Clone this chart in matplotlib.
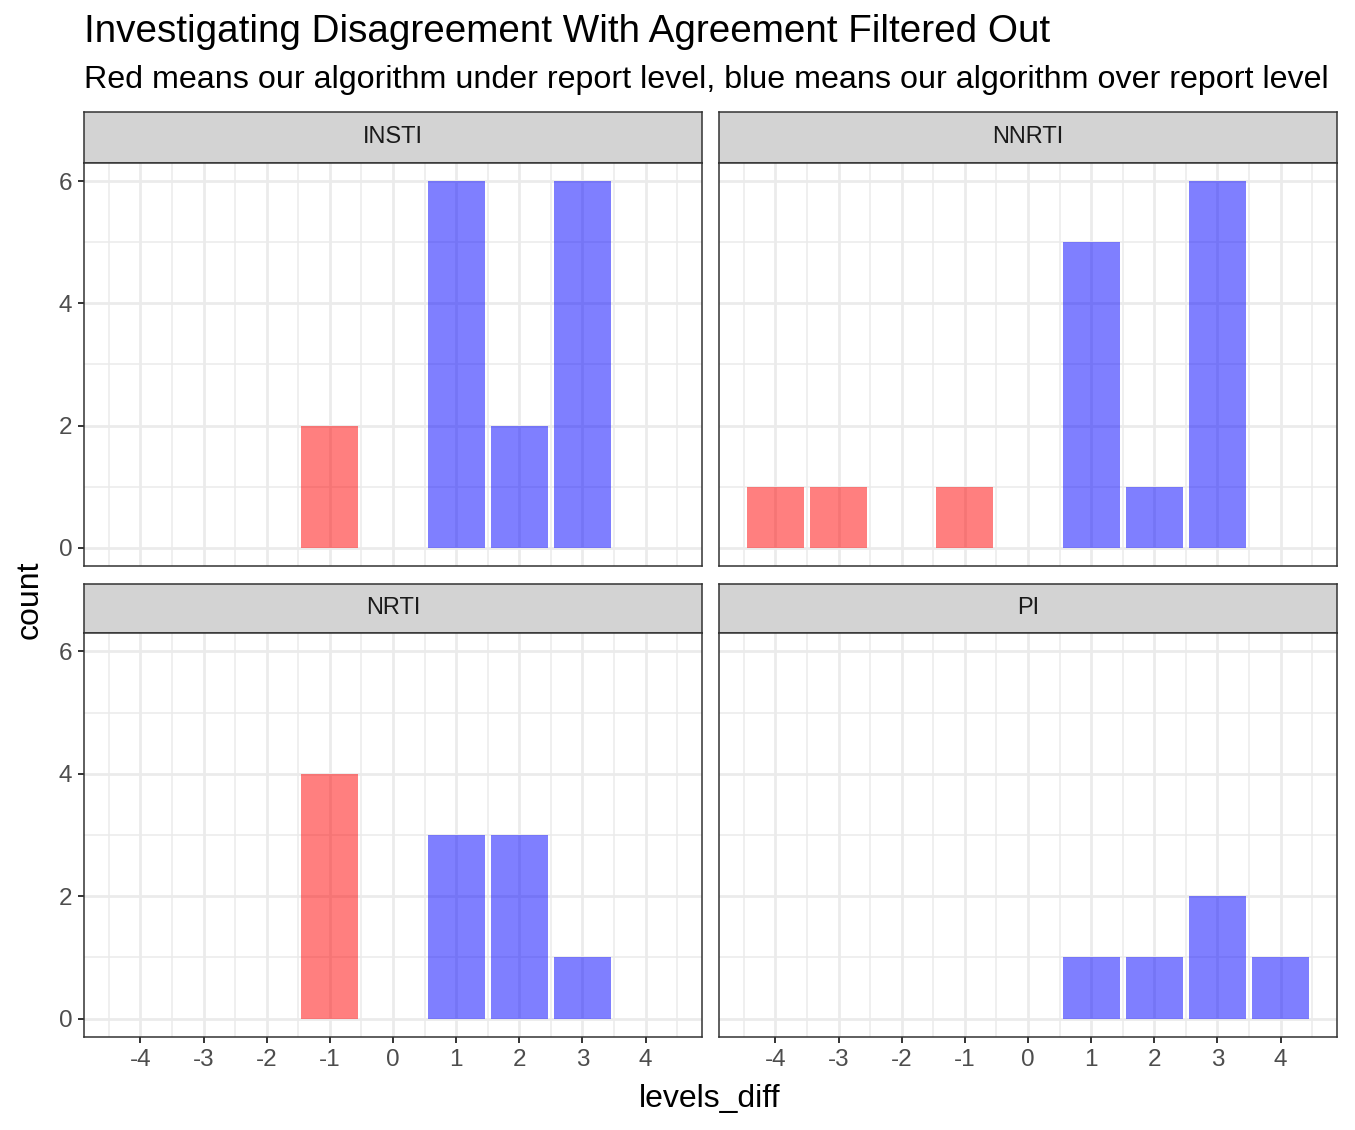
import matplotlib
matplotlib.use("Agg")
import numpy as np
from matplotlib import pyplot as plt

plt.rcParams['font.family'] = ['Liberation Sans', 'DejaVu Sans']
plt.rcParams['axes.unicode_minus'] = False

# counts per level difference, one list per drug class
panels = ['INSTI', 'NNRTI', 'NRTI', 'PI']
insti_diff = [-1, 1, 2, 3]
insti_count = [2, 6, 2, 6]
nnrti_diff = [-4, -3, -1, 1, 2, 3]
nnrti_count = [1, 1, 1, 5, 1, 6]
nrti_diff = [-1, 1, 2, 3]
nrti_count = [4, 3, 3, 1]
pi_diff = [1, 2, 3, 4]
pi_count = [1, 1, 2, 1]

data = {
    'INSTI': (insti_diff, insti_count),
    'NNRTI': (nnrti_diff, nnrti_count),
    'NRTI': (nrti_diff, nrti_count),
    'PI': (pi_diff, pi_count),
}

W, H = 1355, 1130
fig = plt.figure(figsize=(W / 100, H / 100), dpi=100)

def box(x0, y0, x1, y1):
    # pixel box (top-origin) -> figure fraction
    return [x0 / W, 1 - y1 / H, (x1 - x0) / W, (y1 - y0) / H]

cols = [(84, 702), (719, 1337)]
rows = [((112, 163), (163, 566)), ((584, 633), (633, 1037))]
border = '#333333'

for k, name in enumerate(panels):
    r, c = divmod(k, 2)
    (sx0, sx1) = cols[c]
    (st0, st1), (py0, py1) = rows[r]

    # strip
    sax = fig.add_axes(box(sx0, st0, sx1, st1))
    sax.set_facecolor('#D3D3D3')
    sax.set_xticks([]); sax.set_yticks([])
    for s in sax.spines.values():
        s.set_color(border); s.set_linewidth(1.1)
    sax.text(0.5, 0.5, name, ha='center', va='center', fontsize=17,
             color='#1A1A1A', transform=sax.transAxes)

    ax = fig.add_axes(box(sx0, py0, sx1, py1))
    ax.set_xlim(-4.895, 4.895)
    ax.set_ylim(-0.3, 6.3)
    ax.set_xticks(range(-4, 5))
    ax.set_yticks([0, 2, 4, 6])
    ax.set_xticks(np.arange(-4.5, 5, 1), minor=True)
    ax.set_yticks([1, 3, 5], minor=True)
    ax.grid(which='major', color='#EBEBEB', linewidth=2.0, zorder=0)
    ax.grid(which='minor', color='#EBEBEB', linewidth=1.1, zorder=0)
    ax.set_axisbelow(True)
    ax.tick_params(which='minor', length=0)
    ax.tick_params(which='major', length=4.5, width=1.4, color=border,
                   labelsize=17.5, labelcolor='#4D4D4D', pad=4)
    for s in ax.spines.values():
        s.set_color(border); s.set_linewidth(1.1)

    xs, ys = data[name]
    cl = ['red' if x < 0 else 'blue' for x in xs]
    ax.bar(xs, ys, width=0.9, color=cl, alpha=0.5, linewidth=0, zorder=2)

    if r == 0:
        ax.tick_params(axis='x', labelbottom=False, length=0)
    if c == 1:
        ax.tick_params(axis='y', labelleft=False, length=0)

fig.text(84 / W, 1 - 32 / H, 'Investigating Disagreement With Agreement Filtered Out',
         fontsize=27.8, ha='left', va='center', color='black')
fig.text(84 / W, 1 - 80 / H,
         'Red means our algorithm under report level, blue means our algorithm over report level',
         fontsize=23.2, ha='left', va='center', color='black')
fig.text(710 / W, 1 - 1099 / H, 'levels_diff', fontsize=23, ha='center', va='center')
fig.text(30 / W, 1 - 600 / H, 'count', fontsize=23, ha='center', va='center', rotation=90)

fig.savefig('out.png', dpi=100, facecolor='white')
